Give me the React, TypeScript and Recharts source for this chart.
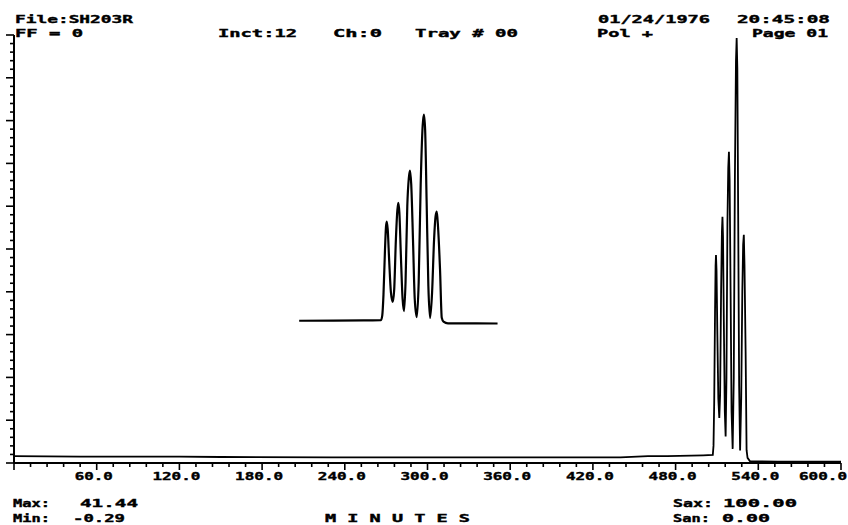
import React from 'react';
import { ComposedChart, Line, XAxis, YAxis } from 'recharts';

// Retention time (minutes) and detector signal (% of full scale)
const TIME_MIN = [
  0, 48, 120, 150, 230, 320, 440, 460, 474, 500, 507.0,
  507.5, 508.0, 508.6, 509.0, 509.3, 509.7, 510.3, 511.0, 511.7,
  512.3, 513.0, 513.6, 514.0, 514.4, 515.0, 515.7, 516.3,
  516.9, 517.6, 518.2, 518.7, 519.2, 519.9, 520.6, 521.4,
  522.2, 523.0, 523.8, 524.3, 524.8, 525.4, 526.1, 526.8,
  527.6, 528.4, 529.0, 529.5, 530.0, 530.8, 531.5, 532.2, 534, 554, 600,
];
const SIGNAL = [
  1.6, 1.5, 1.5, 1.4, 1.3, 1.3, 1.3, 1.6, 1.6, 1.8, 1.9,
  4, 14, 35, 46, 48.6, 45, 30, 15, 10.5,
  16, 40, 54, 57.5, 53, 33, 12, 6.2,
  20, 56, 69, 72.7, 66, 40, 12, 3.3,
  20, 66, 94, 99.3, 92, 58, 18, 2.9,
  15, 40, 51, 53.3, 46, 26, 3, 1.2, 0.4, 0.3, 0.3,
];

// Expanded inset window (minutes)
const INSET_START = 474;
const INSET_END = 554;
const INSET_X_DOMAIN: [number, number] = [359.0, 692.5];
const INSET_Y_DOMAIN: [number, number] = [-65.8, 137.0];

const X_MAJOR = [60, 120, 180, 240, 300, 360, 420, 480, 540, 600];
const X_LABELS = ['60.0', '120.0', '180.0', '240.0', '300.0', '360.0', '420.0', '480.0', '540.0', '600.0'];
const X_STEP = 12;
const Y_STEP = 2;

const mainData = TIME_MIN.map((t, i) => ({ t, v: SIGNAL[i] }));
const insetData = mainData.filter((d) => d.t >= INSET_START && d.t <= INSET_END);

const xTicks: number[] = [];
for (let t = 0; t <= 600; t += X_STEP) xTicks.push(t);
const yTicks: number[] = [];
for (let v = 0; v <= 100; v += Y_STEP) yTicks.push(v);

const FONT = '"DejaVu Sans Mono", monospace';

const XTick = (props: any) => {
  const { x, y, payload } = props;
  const v = payload.value;
  const idx = X_MAJOR.indexOf(v);
  const major = v % 60 === 0;
  const label = idx >= 0 ? X_LABELS[idx] : null;
  const last = idx === X_MAJOR.length - 1;
  return (
    <g>
      <line x1={x} x2={x} y1={y} y2={y + (major ? 7 : 4)} stroke="#000" strokeWidth={1.6} />
      {label && (
        <text
          x={last ? x + 6 : x - 3}
          y={y + 16.5}
          textAnchor={last ? 'end' : 'middle'}
          fontFamily={FONT}
          fontWeight="bold"
          fontSize={11}
          fill="#000"
          stroke="#000"
          strokeWidth={0.4}
          textLength={label.length * 10 - 2}
          lengthAdjust="spacingAndGlyphs"
        >
          {label}
        </text>
      )}
    </g>
  );
};

const YTick = (props: any) => {
  const { x, y, payload } = props;
  const major = payload.value % 10 === 0;
  return <line x1={x - (major ? 8 : 4)} x2={x} y1={y} y2={y} stroke="#000" strokeWidth={1.6} />;
};

const T = ({ x, y, w, children }: { x: number; y: number; w: number; children: string }) => (
  <text
    x={x}
    y={y}
    fontFamily={FONT}
    fontWeight="bold"
    fontSize={11}
    fill="#000"
    stroke="#000"
    strokeWidth={0.4}
    textLength={w}
    lengthAdjust="spacingAndGlyphs"
  >
    {children}
  </text>
);

export default function App() {
  return (
    <div style={{ position: 'absolute', left: 0, top: 0, width: 848, height: 525, background: '#fff' }}>
      <ComposedChart width={848} height={525} margin={{ top: 35, right: 7, bottom: 60, left: 0 }}>
        <XAxis
          xAxisId="main"
          dataKey="t"
          type="number"
          domain={[0, 600]}
          ticks={xTicks}
          interval={0}
          height={2}
          tickSize={0}
          tickMargin={0}
          tickLine={false}
          tick={<XTick />}
          axisLine={{ stroke: '#000', strokeWidth: 2 }}
          allowDataOverflow
        />
        <YAxis
          yAxisId="main"
          type="number"
          domain={[0, 100]}
          ticks={yTicks}
          interval={0}
          width={14}
          tickSize={0}
          tickMargin={0}
          tickLine={false}
          tick={<YTick />}
          axisLine={{ stroke: '#000', strokeWidth: 2 }}
          allowDataOverflow
        />
        <XAxis
          xAxisId="inset"
          dataKey="t"
          type="number"
          orientation="top"
          height={0}
          domain={INSET_X_DOMAIN}
          hide
          allowDataOverflow
        />
        <YAxis
          yAxisId="inset"
          type="number"
          orientation="right"
          width={0}
          domain={INSET_Y_DOMAIN}
          hide
          allowDataOverflow
        />
        <Line
          data={mainData}
          xAxisId="main"
          yAxisId="main"
          dataKey="v"
          type="linear"
          stroke="#000"
          strokeWidth={1.8}
          dot={false}
          isAnimationActive={false}
        />
        <Line
          data={insetData}
          xAxisId="inset"
          yAxisId="inset"
          dataKey="v"
          type="monotone"
          stroke="#000"
          strokeWidth={2.2}
          dot={false}
          isAnimationActive={false}
        />
      </ComposedChart>
      <svg width={848} height={525} style={{ position: 'absolute', left: 0, top: 0, pointerEvents: 'none' }}>
        <T x={15} y={22.5} w={118}>File:SH203R</T>
        <T x={15} y={36.5} w={68}>FF = 0</T>
        <T x={218} y={36.5} w={79}>Inct:12</T>
        <T x={333} y={36.5} w={49}>Ch:0</T>
        <T x={415} y={36.5} w={103}>Tray # 00</T>
        <T x={598} y={22.5} w={112}>01/24/1976</T>
        <T x={737} y={22.5} w={93}>20:45:08</T>
        <T x={597} y={36.5} w={56}>Pol +</T>
        <T x={752} y={36.5} w={76}>Page 01</T>
        <T x={13} y={507} w={37}>Max:</T>
        <T x={80} y={507} w={58}>41.44</T>
        <T x={13} y={522} w={37}>Min:</T>
        <T x={73} y={522} w={52}>-0.29</T>
        <T x={325} y={522} w={145}>M I N U T E S</T>
        <T x={673} y={507} w={40}>Sax:</T>
        <T x={723} y={507} w={74}>100.00</T>
        <T x={673} y={522} w={37}>San:</T>
        <T x={722} y={522} w={48}>0.00</T>
      </svg>
    </div>
  );
}
